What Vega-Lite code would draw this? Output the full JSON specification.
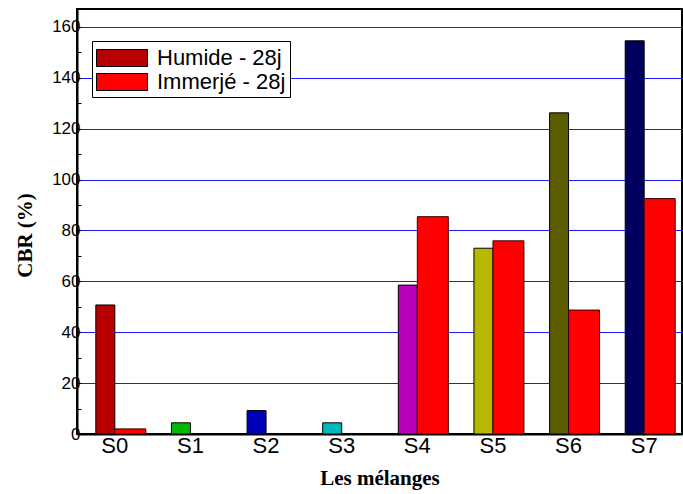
{
  "$schema": "https://vega.github.io/schema/vega-lite/v6.json",
  "width": 605,
  "height": 425,
  "autosize": {"type": "none"},
  "padding": {"left": 77, "top": 9, "right": 1, "bottom": 60},
  "background": "white",
  "config": {
    "view": {"stroke": "black", "strokeWidth": 2},
    "axis": {"domainColor": "black", "domainWidth": 2, "labelColor": "black", "titleColor": "black"}
  },
  "data": {
    "values": [
      {"m": "S0", "serie": "Humide - 28j", "v": 50.7},
      {"m": "S1", "serie": "Humide - 28j", "v": 4.4},
      {"m": "S2", "serie": "Humide - 28j", "v": 9.2},
      {"m": "S3", "serie": "Humide - 28j", "v": 4.4},
      {"m": "S4", "serie": "Humide - 28j", "v": 58.5},
      {"m": "S5", "serie": "Humide - 28j", "v": 73},
      {"m": "S6", "serie": "Humide - 28j", "v": 126.2},
      {"m": "S7", "serie": "Humide - 28j", "v": 154.5},
      {"m": "S0", "serie": "Immerjé - 28j", "v": 2},
      {"m": "S4", "serie": "Immerjé - 28j", "v": 85.4},
      {"m": "S5", "serie": "Immerjé - 28j", "v": 75.9},
      {"m": "S6", "serie": "Immerjé - 28j", "v": 48.7},
      {"m": "S7", "serie": "Immerjé - 28j", "v": 92.5}
    ]
  },
  "encoding": {
    "x": {
      "field": "m", "type": "nominal",
      "scale": {"domain": ["S0","S1","S2","S3","S4","S5","S6","S7"], "paddingInner": 0, "paddingOuter": 0},
      "axis": {
        "labelAngle": 0, "labelFont": "Liberation Sans", "labelFontSize": 22, "labelPadding": 1,
        "ticks": false, "title": "Les mélanges", "titleFont": "Liberation Serif", "titleFontWeight": "bold",
        "titleFontSize": 21, "titlePadding": 11
      }
    },
    "y": {
      "field": "v", "type": "quantitative",
      "scale": {"domain": [0, 167], "nice": false, "zero": true},
      "axis": {
        "values": [0,10,20,30,40,50,60,70,80,90,100,110,120,130,140,150,160],
        "labelExpr": "datum.value % 20 === 0 ? datum.label : ''",
        "labelFont": "Liberation Sans", "labelFontSize": 17, "labelPadding": 1,
        "tickSize": -4, "tickColor": "black", "tickWidth": 1,
        "grid": true, "gridColor": "#1a1aff", "gridWidth": 1,
        "gridOpacity": {"condition": {"test": "datum.value % 20 === 0 && datum.value > 0", "value": 1}, "value": 0},
        "title": "CBR (%)", "titleFont": "Liberation Serif", "titleFontWeight": "bold", "titleFontSize": 21,
        "titleX": -52, "titleY": 226, "titleBaseline": "middle", "titleAlign": "center", "titleAngle": 270
      }
    }
  },
  "layer": [
    {
      "transform": [{"filter": "datum.serie === 'Humide - 28j'"}],
      "mark": {"type": "bar", "width": 19, "xOffset": -9.5, "stroke": "black", "strokeWidth": 1},
      "encoding": {
        "fill": {
          "field": "m", "type": "nominal", "legend": null,
          "scale": {
            "domain": ["S0","S1","S2","S3","S4","S5","S6","S7"],
            "range": ["#b80000","#00b800","#0000b8","#00b8b8","#b800b8","#b8b800","#5c5c00","#00005c"]
          }
        }
      }
    },
    {
      "transform": [{"filter": "datum.serie === 'Immerjé - 28j'"}],
      "mark": {"type": "bar", "width": 31, "xOffset": 15.5, "stroke": "#3a0000", "strokeWidth": 1},
      "encoding": {
        "fill": {
          "field": "serie", "type": "nominal",
          "scale": {"domain": ["Humide - 28j", "Immerjé - 28j"], "range": ["#b80000", "#ff0000"]},
          "legend": {
            "title": null, "orient": "none", "legendX": 15, "legendY": 32,
            "padding": 4, "strokeColor": "black", "fillColor": "white",
            "symbolType": "M-1,-0.68H3.08V0.68H-1Z", "symbolSize": 625,
            "symbolStrokeColor": "black", "symbolStrokeWidth": 1, "symbolOpacity": 1,
            "labelFont": "Liberation Sans", "labelFontSize": 22, "labelColor": "black",
            "labelOffset": 35, "rowPadding": 0
          }
        }
      }
    }
  ],
  "resolve": {"scale": {"fill": "independent"}}
}
